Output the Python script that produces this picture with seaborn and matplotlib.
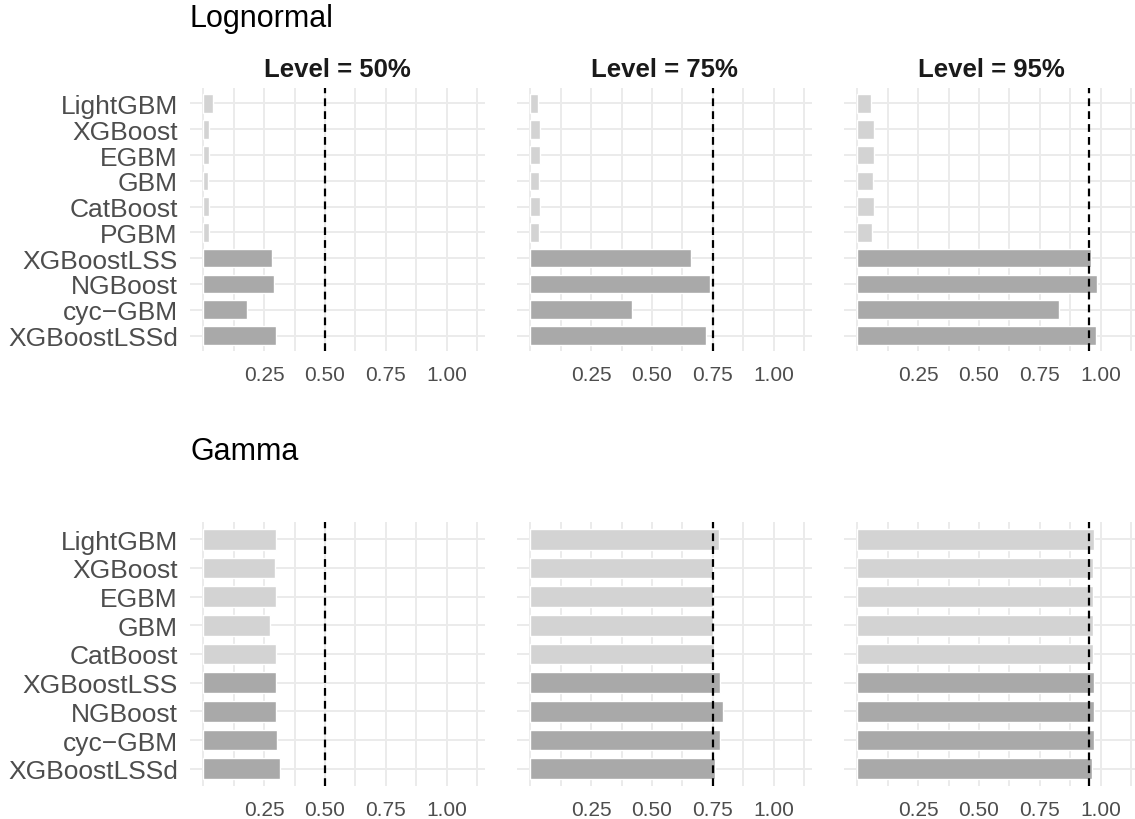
import numpy as np
import pandas as pd
import matplotlib
matplotlib.use("Agg")
import matplotlib.pyplot as plt
import seaborn as sns

# ---- data -------------------------------------------------------------
lognormal_models = ["LightGBM", "XGBoost", "EGBM", "GBM", "CatBoost", "PGBM",
                    "XGBoostLSS", "NGBoost", "cyc\u2212GBM", "XGBoostLSSd"]
lognormal_50 = [0.041, 0.025, 0.025, 0.020, 0.025, 0.025, 0.281, 0.291, 0.180, 0.299]
lognormal_75 = [0.031, 0.041, 0.041, 0.037, 0.041, 0.037, 0.660, 0.738, 0.418, 0.721]
lognormal_95 = [0.057, 0.070, 0.070, 0.066, 0.070, 0.061, 0.958, 0.984, 0.828, 0.980]

gamma_models = ["LightGBM", "XGBoost", "EGBM", "GBM", "CatBoost",
                "XGBoostLSS", "NGBoost", "cyc\u2212GBM", "XGBoostLSSd"]
gamma_50 = [0.299, 0.295, 0.299, 0.275, 0.299, 0.299, 0.299, 0.303, 0.316]
gamma_75 = [0.775, 0.751, 0.751, 0.749, 0.754, 0.779, 0.791, 0.779, 0.757]
gamma_95 = [0.971, 0.967, 0.967, 0.967, 0.967, 0.971, 0.971, 0.971, 0.963]

levels = [0.50, 0.75, 0.95]
level_labels = ["Level = 50%", "Level = 75%", "Level = 95%"]
distributional_models = ["XGBoostLSS", "NGBoost", "cyc\u2212GBM", "XGBoostLSSd"]

x_ticks = [0.25, 0.50, 0.75, 1.00]
x_tick_labels = ["0.25", "0.50", "0.75", "1.00"]

POINT_COLOR = "#D3D3D3"
DIST_COLOR = "#A9A9A9"
GRID_COLOR = "#EBEBEB"
TEXT_GREY = "#4D4D4D"

# ---- style ------------------------------------------------------------
sns.set_theme(style="white")
plt.rcParams["font.family"] = ["Liberation Sans", "DejaVu Sans"]

W, H = 1135, 820
fig = plt.figure(figsize=(W / 100, H / 100), dpi=100)
fig.patch.set_facecolor("white")


def px_axes(left, top, right, bottom):
    return fig.add_axes([left / W, 1 - bottom / H, (right - left) / W, (bottom - top) / H])


col_lefts = [189.6, 516.6, 843.6]
panel_w = 295.2
rows = [
    ("Lognormal", lognormal_models, [lognormal_50, lognormal_75, lognormal_95], 89, 352, 27),
    ("Gamma", gamma_models, [gamma_50, gamma_75, gamma_95], 523, 787, 460),
]

grid_x = np.arange(0, 1.126, 0.125)

for r, (title, models, series, top, bottom, title_base) in enumerate(rows):
    fig.text(190 / W, 1 - title_base / H, title, fontsize=22, color="black",
             ha="left", va="baseline")
    palette = {m: (DIST_COLOR if m in distributional_models else POINT_COLOR) for m in models}
    for c, (vals, lev) in enumerate(zip(series, levels)):
        left = col_lefts[c]
        ax = px_axes(left, top, left + panel_w, bottom)
        df = pd.DataFrame({"model": models, "coverage": vals})
        sns.barplot(data=df, x="coverage", y="model", hue="model", order=models,
                    hue_order=models, palette=palette, orient="h", width=0.72,
                    saturation=1, legend=False, ax=ax, zorder=2)
        ax.axvline(lev, color="black", lw=1.6, ls=(0, (3.5, 2.3)), zorder=3)

        ax.set_xlim(-0.055, 1.155)
        ax.set_ylim(len(models) - 1 + 0.6, -0.6)
        ax.set_xticks(grid_x)
        ax.set_xticklabels([x_tick_labels[x_ticks.index(round(t, 3))] if round(t, 3) in x_ticks else ""
                            for t in grid_x])
        ax.grid(True, axis="both", color=GRID_COLOR, lw=1.4, zorder=0)
        ax.set_axisbelow(True)
        for s in ax.spines.values():
            s.set_visible(False)
        ax.tick_params(axis="x", length=0, pad=10, labelsize=15, labelcolor=TEXT_GREY)
        ax.tick_params(axis="y", length=0, pad=8.5, labelsize=19, labelcolor=TEXT_GREY)
        ax.set_xlabel("")
        ax.set_ylabel("")
        if c > 0:
            ax.set_yticklabels([])
        if r == 0:
            fig.text((left + panel_w / 2) / W, 1 - 77 / H, level_labels[c],
                     fontsize=18.5, fontweight="bold", color="#1A1A1A",
                     ha="center", va="baseline")

fig.savefig("out.png", dpi=100, facecolor="white")
